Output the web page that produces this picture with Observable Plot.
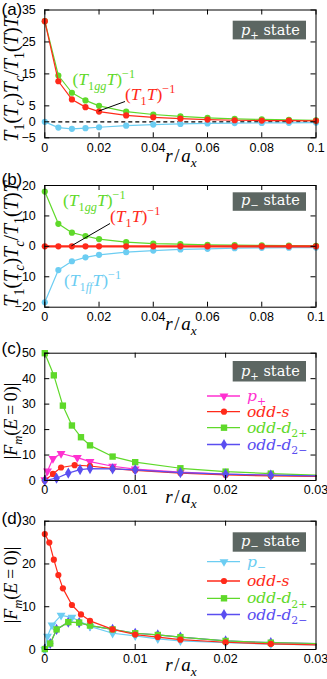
<!DOCTYPE html>
<html><head><meta charset="utf-8">
<script src="https://cdn.jsdelivr.net/npm/d3@7"></script>
<script src="https://cdn.jsdelivr.net/npm/@observablehq/plot@0.6"></script>
<style>
body{margin:0;background:#fff;}
#root{position:relative;width:327px;height:679px;overflow:hidden;background:#fff;}
.panel{position:absolute;left:0;}
svg{display:block;}
</style></head><body><div id="root"></div>
<script>
// ---------- data ----------
const rAB = [0, 0.005, 0.01, 0.015, 0.02, 0.03, 0.04, 0.05, 0.06, 0.07, 0.08, 0.09, 0.1];
// panel (a): p+ state
const aGG = [31.5, 14.5, 9.1, 6.7, 5.0, 3.2, 2.3, 1.7, 1.25, 0.95, 0.75, 0.6, 0.45];
const aT1 = [31.5, 12.7, 7.0, 4.6, 3.2, 2.0, 1.4, 1.0, 0.7, 0.5, 0.4, 0.35, 0.3];
const aFF = [0, -1.8, -2.2, -2.0, -1.7, -1.2, -0.85, -0.65, -0.5, -0.4, -0.35, -0.3, -0.25];
// panel (b): p- state
const bGG = [18.0, 7.4, 4.5, 3.4, 2.4, 1.4, 0.9, 0.7, 0.5, 0.4, 0.3, 0.25, 0.2];
const bT1 = [0, 0, 0, 0, 0, 0, 0, 0, 0, 0, 0, 0, 0];
const bFF = [-18.4, -7.8, -4.9, -3.6, -2.8, -1.9, -1.4, -1.0, -0.8, -0.6, -0.5, -0.45, -0.4];
// panel (c): p+ state
const cPx = [0, 0.0003, 0.0009, 0.0018, 0.0036, 0.005, 0.0075, 0.01, 0.015, 0.02, 0.025, 0.03];
const cPy = [0.3, 3.7, 8.6, 10.6, 9.0, 7.4, 5.6, 4.5, 3.3, 2.5, 2.1, 1.8];
const cSx = [0, 0.0009, 0.0018, 0.0033, 0.005, 0.0075, 0.01, 0.015, 0.02, 0.025, 0.03];
const cSy = [0, 2.6, 5.1, 6.0, 5.7, 4.7, 4.0, 2.9, 2.2, 1.8, 1.6];
const cD2px = [0, 0.001, 0.002, 0.003, 0.004, 0.005, 0.0075, 0.01, 0.015, 0.02, 0.025, 0.03];
const cD2py = [50, 41.3, 29.4, 21.6, 17.0, 13.8, 9.4, 7.2, 4.8, 3.5, 2.7, 2.1];
const cD2mx = [0, 0.0013, 0.0026, 0.0039, 0.005, 0.0075, 0.01, 0.015, 0.02, 0.025, 0.03];
const cD2my = [0, 0.9, 2.9, 4.3, 4.7, 4.6, 4.2, 3.1, 2.5, 2.1, 1.8];
// panel (d): p- state
const dPx = [0, 0.0003, 0.0008, 0.0018, 0.003, 0.005, 0.0075, 0.01, 0.0125, 0.015, 0.02, 0.025, 0.03];
const dPy = [0, 3.1, 5.7, 8.0, 7.5, 5.4, 3.8, 3.2, 2.5, 2.0, 1.6, 1.25, 1.1];
const dSx = [0, 0.0005, 0.001, 0.0015, 0.002, 0.003, 0.004, 0.005, 0.0075, 0.01, 0.0125, 0.015, 0.02, 0.025, 0.03];
const dSy = [27.0, 25.0, 21.0, 17.4, 14.3, 10.4, 8.2, 6.7, 4.7, 3.5, 2.9, 2.3, 1.7, 1.3, 1.1];
const dD2px = [0, 0.0006, 0.0013, 0.0026, 0.0038, 0.005, 0.0075, 0.01, 0.0125, 0.015, 0.02, 0.025, 0.03];
const dD2py = [0.1, 1.4, 4.7, 6.4, 6.3, 5.6, 4.7, 3.8, 3.4, 2.9, 2.0, 1.6, 1.4];
const dD2mx = [0, 0.0006, 0.0013, 0.0026, 0.0038, 0.005, 0.0075, 0.01, 0.0125, 0.015, 0.02, 0.025, 0.03];
const dD2my = [0.1, 1.4, 4.7, 6.4, 6.3, 5.6, 4.7, 3.8, 3.4, 2.9, 2.0, 1.6, 1.4];
// ticks
const xTicksAB = [0, 0.02, 0.04, 0.06, 0.08, 0.1];
const xTicksCD = [0, 0.01, 0.02, 0.03];
const yTicksA = [-5, 0, 5, 15, 25, 35];
const yTicksB = [-20, -10, 0, 10, 20];
const yTicksC = [0, 10, 20, 30, 40, 50];
const yTicksD = [0, 10, 20, 30];

// ---------- style ----------
const GREEN = "#5fd92a", RED = "#ff2a1a", CYAN = "#6ccdf2", MAG = "#ff30d0", BLUE = "#5a4ef0", BOX = "#5c6662";
const W = 327, ML = 44.3, MR = 11.5;
const SERIF = "Liberation Serif, Times New Roman, serif";
const DSERIF = "DejaVu Serif, serif";

const triDown = {draw(ctx, size) {
  const a = Math.sqrt(4 * size / Math.sqrt(3)), h = a * Math.sqrt(3) / 2;
  ctx.moveTo(0, 2 * h / 3); ctx.lineTo(a / 2, -h / 3); ctx.lineTo(-a / 2, -h / 3); ctx.closePath();
}};
const SYM = {circle: "circle", square: "square", diamond: "diamond", tri: triDown};
const RAD = {circle: 3.1, square: 3.6, diamond: 3.4, tri: 3.3};

function ser(xs, ys, color, sym, sw = 1.2, markerMax = Infinity) {
  const data = xs.map((x, i) => ({x, y: ys[i]}));
  return [
    Plot.line(data, {x: "x", y: "y", stroke: color, strokeWidth: sw}),
    Plot.dot(data.filter(d => d.x < markerMax), {x: "x", y: "y", fill: color, r: RAD[sym], symbol: SYM[sym]})
  ];
}

function rich(sel, x, y, parts, {size = 16, fill = "#000", anchor = "start", rotate = 0, family = SERIF, weight = "normal"} = {}) {
  const t = sel.append("text").attr("x", x).attr("y", y).attr("fill", fill)
    .attr("font-family", family).attr("font-size", size).attr("text-anchor", anchor).attr("font-weight", weight);
  if (rotate) t.attr("transform", `rotate(${rotate},${x},${y})`);
  let shift = 0;
  for (const [s, st = ""] of parts) {
    const sp = t.append("tspan").text(s);
    let target = 0, fs = size;
    if (st.includes("b")) { target = 0.28 * size; fs = 0.7 * size; }
    if (st.includes("p")) { target = -0.42 * size; fs = 0.7 * size; }
    if (target - shift !== 0) sp.attr("dy", target - shift);
    shift = target;
    sp.attr("font-size", fs);
    if (st.includes("i")) sp.attr("font-style", "italic");
  }
  return t;
}

function makePanel({top, height, mt, mb, xDomain, yDomain, xTicks, yTicks, xFmt, marks}) {
  const fh = height - mt - mb, fw = W - ML - MR;
  const plot = Plot.plot({
    width: W, height, marginTop: mt, marginBottom: mb, marginLeft: ML, marginRight: MR,
    x: {domain: xDomain}, y: {domain: yDomain},
    style: {fontFamily: "Liberation Sans, Arial, sans-serif", fontSize: "12.5px", color: "#000", background: "transparent", overflow: "visible"},
    marks: [
      ...marks,
      Plot.frame({stroke: "#000", strokeWidth: 1}),
      Plot.ruleX(xTicks, {x: d => d, insetTop: fh - 5, stroke: "#000"}),
      Plot.ruleX(xTicks, {x: d => d, insetBottom: fh - 5, stroke: "#000"}),
      Plot.ruleY(yTicks, {y: d => d, insetRight: fw - 5, stroke: "#000"}),
      Plot.ruleY(yTicks, {y: d => d, insetLeft: fw - 5, stroke: "#000"}),
      Plot.axisX({ticks: xTicks, tickSize: 0, tickPadding: 5, tickFormat: xFmt, label: null}),
      Plot.axisY({ticks: yTicks, tickSize: 0, tickPadding: 9, label: null})
    ]
  });
  const div = document.createElement("div");
  div.className = "panel"; div.style.top = top + "px";
  div.appendChild(plot);
  document.getElementById("root").appendChild(div);
  return plot;
}

function stateBox(g, y, h, base, minus) {
  g.append("rect").attr("x", 232.7).attr("y", y).attr("width", 73.3).attr("height", h).attr("fill", BOX);
  rich(g, 241, base, [["p", "i"], [minus ? "\u2212" : "+", "b"], [" state"]], {size: 14.5, fill: "#fff", family: DSERIF});
}
function panelLabel(g, y, s) {
  g.append("text").attr("x", 1.5).attr("y", y).attr("text-anchor", "start")
    .attr("font-family", "Liberation Sans, Arial, sans-serif")
    .attr("font-size", 17).attr("fill", "#000").text(s);
}
function xLabel(g, y) {
  rich(g, 181, y, [["r", "i"], ["\u200a/\u200a"], ["a", "i"], ["x", "bi"]], {size: 19, anchor: "middle"});
}
const YLAB_T = [["T", "i"], ["1", "b"], ["("], ["T", "i"], ["c", "bi"], [")"], ["T", "i"], ["c", "bi"], ["/"], ["T", "i"], ["1", "b"], ["("], ["T", "i"], [")"], ["T", "i"]];
const YLAB_F = [["|"], ["F", "i"], ["m", "bi"], ["("], ["E", "i"], ["\u2009=\u20090)|"]];
const fmtAB = d => d === 0 ? "0" : String(d);

// ---------- panel (a) ----------
{
  const p = makePanel({top: 0, height: 170, mt: 9.5, mb: 32.7, xDomain: [0, 0.1], yDomain: [-5, 35],
    xTicks: xTicksAB, yTicks: yTicksA, xFmt: fmtAB,
    marks: [
      Plot.ruleY([0], {stroke: "#000", strokeWidth: 1.1, strokeDasharray: "4,3"}),
      ...ser(rAB, aFF, CYAN, "circle"),
      ...ser(rAB, aGG, GREEN, "circle"),
      ...ser(rAB, aT1, RED, "circle")
    ]});
  const g = d3.select(p).append("g");
  const sx = p.scale("x"), sy = p.scale("y");
  g.append("line").attr("x1", sx.apply(rAB[4])).attr("y1", sy.apply(aT1[4])).attr("x2", 125).attr("y2", 101.5)
    .attr("stroke", "#000").attr("stroke-width", 1);
  rich(g, 72.5, 85, [["("], ["T", "i"], ["1", "b"], ["gg", "bi"], ["T", "i"], [")"], ["\u22121", "p"]], {size: 17.5, fill: GREEN});
  rich(g, 125, 100, [["("], ["T", "i"], ["1", "b"], ["T", "i"], [")"], ["\u22121", "p"]], {size: 17.5, fill: RED});
  stateBox(g, 20.7, 18.7, 34.7, false);
  panelLabel(g, 14.5, "(a)");
  xLabel(g, 162);
  rich(g, 18, 79, YLAB_T, {size: 20, anchor: "middle", rotate: -90});
}

// ---------- panel (b) ----------
{
  const p = makePanel({top: 170, height: 170, mt: 15, mb: 33.3, xDomain: [0, 0.1], yDomain: [-20, 20],
    xTicks: xTicksAB, yTicks: yTicksB, xFmt: fmtAB,
    marks: [
      ...ser(rAB, bFF, CYAN, "circle"),
      ...ser(rAB, bGG, GREEN, "circle"),
      ...ser(rAB, bT1, RED, "circle", 2.4)
    ]});
  const g = d3.select(p).append("g");
  const sx = p.scale("x"), sy = p.scale("y");
  g.append("line").attr("x1", sx.apply(rAB[2])).attr("y1", sy.apply(bT1[2])).attr("x2", 110).attr("y2", 53.5)
    .attr("stroke", "#000").attr("stroke-width", 1);
  rich(g, 63, 36, [["("], ["T", "i"], ["1", "b"], ["gg", "bi"], ["T", "i"], [")"], ["\u22121", "p"]], {size: 17.5, fill: GREEN});
  rich(g, 110, 52, [["("], ["T", "i"], ["1", "b"], ["T", "i"], [")"], ["\u22121", "p"]], {size: 17.5, fill: RED});
  rich(g, 64, 116, [["("], ["T", "i"], ["1", "b"], ["ff", "bi"], ["T", "i"], [")"], ["\u22121", "p"]], {size: 17.5, fill: CYAN});
  stateBox(g, 22.3, 18.5, 34.5, true);
  panelLabel(g, 15, "(b)");
  xLabel(g, 160);
  rich(g, 18, 74, YLAB_T, {size: 20, anchor: "middle", rotate: -90});
}

function legend(g, rows) {
  for (const [y, color, sym, parts] of rows) {
    g.append("line").attr("x1", 207).attr("x2", 240).attr("y1", y).attr("y2", y).attr("stroke", color).attr("stroke-width", 1.3);
    const r = RAD[sym];
    g.append("path").attr("transform", `translate(224,${y})`).attr("fill", color)
      .attr("d", d3.symbol(sym === "tri" ? triDown : sym === "square" ? d3.symbolSquare : sym === "diamond" ? d3.symbolDiamond : d3.symbolCircle, Math.PI * r * r)());
    rich(g, 247, y + 5, parts, {size: 15.5, fill: color, family: DSERIF});
  }
}
const fmtCD = d => d === 0 ? "0" : String(d);

// ---------- panel (c) ----------
{
  const p = makePanel({top: 340, height: 170, mt: 12.7, mb: 30, xDomain: [0, 0.03], yDomain: [0, 50],
    xTicks: xTicksCD, yTicks: yTicksC, xFmt: fmtCD,
    marks: [
      ...ser(cPx, cPy, MAG, "tri", 1.2, 0.029),
      ...ser(cSx, cSy, RED, "circle", 1.2, 0.029),
      ...ser(cD2px, cD2py, GREEN, "square", 1.2, 0.029),
      ...ser(cD2mx, cD2my, BLUE, "diamond", 1.2, 0.029)
    ]});
  const g = d3.select(p).append("g");
  stateBox(g, 21, 20.5, 35.7, false);
  legend(g, [
    [56, MAG, "tri", [["p", "i"], ["+", "b"]]],
    [71.7, RED, "circle", [["odd-s", "i"]]],
    [87.7, GREEN, "square", [["odd-d", "i"], ["2+", "b"]]],
    [104.5, BLUE, "diamond", [["odd-d", "i"], ["2\u2212", "b"]]]
  ]);
  panelLabel(g, 13.5, "(c)");
  xLabel(g, 162.5);
  rich(g, 17, 81, YLAB_F, {size: 18, anchor: "middle", rotate: -90});
}

// ---------- panel (d) ----------
{
  const p = makePanel({top: 510, height: 169, mt: 10.7, mb: 30, xDomain: [0, 0.03], yDomain: [0, 30],
    xTicks: xTicksCD, yTicks: yTicksD, xFmt: fmtCD,
    marks: [
      ...ser(dD2mx, dD2my, BLUE, "diamond", 1.2, 0.029),
      ...ser(dPx, dPy, CYAN, "tri", 1.2, 0.029),
      ...ser(dD2px, dD2py, GREEN, "square", 1.2, 0.029),
      ...ser(dSx, dSy, RED, "circle", 1.2, 0.029)
    ]});
  const g = d3.select(p).append("g");
  stateBox(g, 22.3, 19.4, 35.7, true);
  legend(g, [
    [51.7, CYAN, "tri", [["p", "i"], ["\u2212", "b"]]],
    [71, RED, "circle", [["odd-s", "i"]]],
    [88.3, GREEN, "square", [["odd-d", "i"], ["2+", "b"]]],
    [104.5, BLUE, "diamond", [["odd-d", "i"], ["2\u2212", "b"]]]
  ]);
  panelLabel(g, 13.5, "(d)");
  xLabel(g, 161);
  rich(g, 17, 75, YLAB_F, {size: 18, anchor: "middle", rotate: -90});
}
</script></body></html>
